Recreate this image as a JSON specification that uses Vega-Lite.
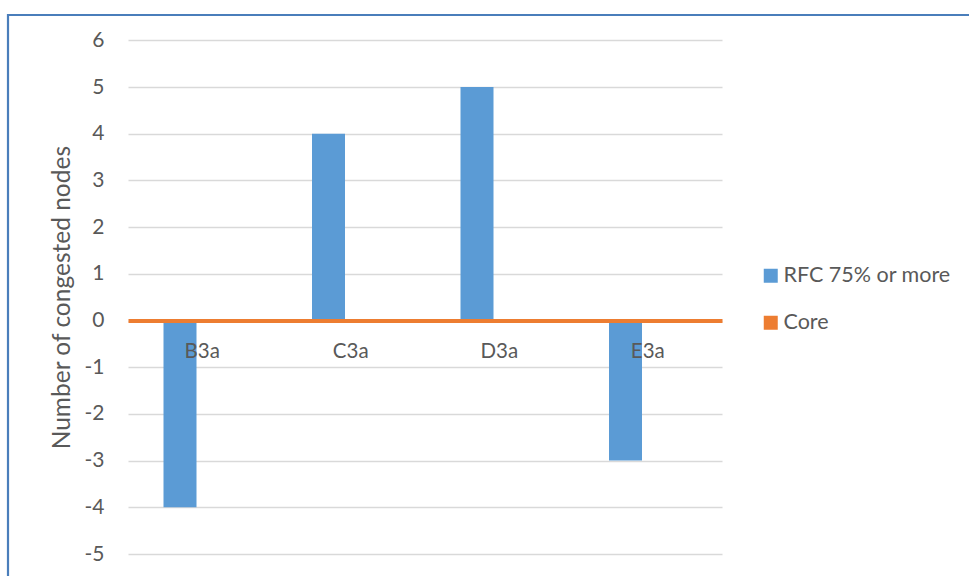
{
  "$schema": "https://vega.github.io/schema/vega-lite/v6.json",
  "description": "Congested nodes per scenario: clustered columns for two series, with the category axis drawn at zero.",
  "width": 970,
  "height": 575,
  "autosize": {"type": "none"},
  "padding": {"left": 8, "top": 15, "right": 0, "bottom": 0},
  "background": "white",
  "config": {
    "view": {"stroke": "#4A7EBB", "strokeWidth": 2.2},
    "font": "Lato"
  },
  "data": {
    "values": [
      {"scenario": "B3a", "series": "RFC 75% or more", "nodes": -4},
      {"scenario": "C3a", "series": "RFC 75% or more", "nodes": 4},
      {"scenario": "D3a", "series": "RFC 75% or more", "nodes": 5},
      {"scenario": "E3a", "series": "RFC 75% or more", "nodes": -3},
      {"scenario": "B3a", "series": "Core", "nodes": 0},
      {"scenario": "C3a", "series": "Core", "nodes": 0},
      {"scenario": "D3a", "series": "Core", "nodes": 0},
      {"scenario": "E3a", "series": "Core", "nodes": 0}
    ]
  },
  "mark": {"type": "bar"},
  "encoding": {
    "x": {
      "field": "scenario",
      "type": "nominal",
      "scale": {
        "domain": ["B3a", "C3a", "D3a", "E3a"],
        "range": [120, 714],
        "paddingInner": 0,
        "paddingOuter": 0
      },
      "axis": {
        "title": null,
        "orient": "bottom",
        "offset": -269.5,
        "domainColor": "#ED7D31",
        "domainWidth": 4,
        "ticks": false,
        "grid": false,
        "labelAngle": 0,
        "labelPadding": 21,
        "labelFont": "Lato",
        "labelFontSize": 20.5,
        "labelColor": "#595959",
        "zindex": 1
      }
    },
    "xOffset": {
      "field": "series",
      "type": "nominal",
      "scale": {
        "domain": ["RFC 75% or more", "Core"],
        "range": [35.5, 101.5],
        "paddingInner": 0,
        "paddingOuter": 0
      }
    },
    "y": {
      "field": "nodes",
      "type": "quantitative",
      "scale": {"domain": [-5, 6], "range": [539, 25.3], "nice": false, "zero": false},
      "axis": {
        "title": "Number of congested nodes",
        "offset": -120,
        "values": [-5, -4, -3, -2, -1, 0, 1, 2, 3, 4, 5, 6],
        "labelExpr": "'' + datum.value",
        "domain": false,
        "ticks": false,
        "labelPadding": 24,
        "labelFont": "Lato",
        "labelFontSize": 21,
        "labelColor": "#595959",
        "gridColor": "#D9D9D9",
        "gridWidth": 1.5,
        "titleFont": "Lato",
        "titleFontSize": 24.5,
        "titleFontWeight": "normal",
        "titleColor": "#595959",
        "titlePadding": 10,
        "zindex": 0
      }
    },
    "color": {
      "field": "series",
      "type": "nominal",
      "scale": {
        "domain": ["RFC 75% or more", "Core"],
        "range": ["#5B9BD5", "#ED7D31"]
      },
      "legend": {
        "title": null,
        "orient": "none",
        "legendX": 752,
        "legendY": 250,
        "symbolType": "square",
        "symbolSize": 196,
        "symbolStrokeWidth": 0,
        "labelFont": "Lato",
        "labelFontSize": 21.5,
        "labelColor": "#595959",
        "labelOffset": 2,
        "labelLimit": 400,
        "rowPadding": 24,
        "padding": 0
      }
    }
  }
}
